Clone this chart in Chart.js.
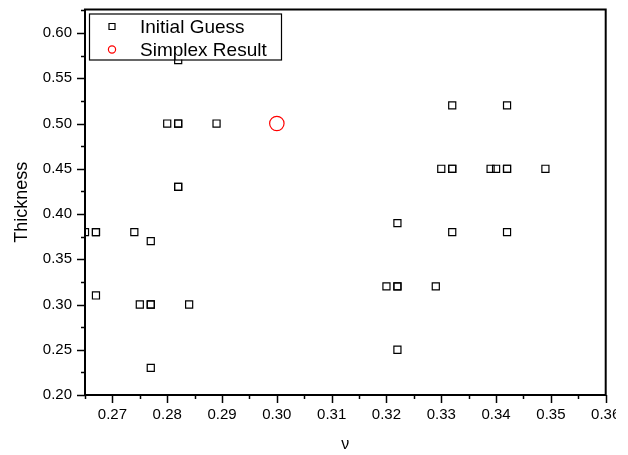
<!DOCTYPE html>
<html><head><meta charset="utf-8">
<script src="https://cdn.jsdelivr.net/npm/chart.js@4"></script>
<style>html,body{margin:0;padding:0;background:#fff;overflow:hidden}#wrap{width:628px;height:455px;position:relative;background:#fff}</style>
</head><body><div id="wrap"><canvas id="c" width="616" height="455"></canvas></div>
<script>
// ---- data ----
const initialX = [0.265, 0.267, 0.267, 0.274, 0.277, 0.267, 0.275, 0.277, 0.277, 0.284, 0.277,
                  0.282, 0.282, 0.280, 0.282, 0.282, 0.289, 0.282,
                  0.332, 0.342, 0.330, 0.332, 0.332, 0.339, 0.340, 0.342, 0.342, 0.349,
                  0.322, 0.332, 0.342, 0.320, 0.322, 0.322, 0.329, 0.322];
const initialY = [0.38, 0.38, 0.38, 0.38, 0.37, 0.31, 0.30, 0.30, 0.30, 0.30, 0.23,
                  0.43, 0.43, 0.50, 0.50, 0.50, 0.50, 0.57,
                  0.52, 0.52, 0.45, 0.45, 0.45, 0.45, 0.45, 0.45, 0.45, 0.45,
                  0.39, 0.38, 0.38, 0.32, 0.32, 0.32, 0.32, 0.25];
const simplexX = [0.30];
const simplexY = [0.50];
const seriesNames = ['Initial Guess', 'Simplex Result'];
const xTitle = 'ν';
const yTitle = 'Thickness';
const xMin = 0.265, xMax = 0.36, xMajor = 0.01, xMinor = 0.005;
const yMin = 0.20, yMax = 0.626, yMajor = 0.05, yMinor = 0.025;

const FONT = "'Liberation Sans', Arial, sans-serif";
function isMajor(v, step) { const r = v / step; return Math.abs(r - Math.round(r)) < 1e-6; }
function toPts(xs, ys) { return xs.map((x, i) => ({ x: x, y: ys[i] })); }

const framePlugin = {
  id: 'frame',
  afterDatasetsDraw(chart) {
    const { ctx, chartArea: a, scales: { x, y } } = chart;
    ctx.save();
    ctx.strokeStyle = '#000';
    ctx.lineWidth = 2;
    ctx.strokeRect(a.left, a.top, a.right - a.left, a.bottom - a.top);
    ctx.lineWidth = 1.5;
    x.ticks.forEach(t => {
      const px = Math.round(x.getPixelForValue(t.value)) + 0.5;
      const len = isMajor(t.value, xMajor) ? 8 : 4;
      ctx.beginPath(); ctx.moveTo(px, a.bottom); ctx.lineTo(px, a.bottom + len); ctx.stroke();
    });
    y.ticks.forEach(t => {
      const py = Math.round(y.getPixelForValue(t.value)) + 0.5;
      const len = isMajor(t.value, yMajor) ? 8 : 4;
      ctx.beginPath(); ctx.moveTo(a.left, py); ctx.lineTo(a.left - len, py); ctx.stroke();
    });
    // legend box
    const lx = a.left + 4, ly = a.top + 4, lw = 192, lh = 46;
    ctx.fillStyle = '#fff';
    ctx.fillRect(lx, ly, lw, lh);
    ctx.lineWidth = 1.2;
    ctx.strokeStyle = '#000';
    ctx.strokeRect(lx + 0.5, ly + 0.5, lw, lh);
    const ds = chart.data.datasets;
    const rows = [ly + 13, ly + 36];
    const mx = lx + 23;
    ctx.font = '19px ' + FONT;
    ctx.textBaseline = 'middle';
    ctx.textAlign = 'left';
    ds.forEach((d, i) => {
      const cy = rows[i];
      ctx.strokeStyle = d.borderColor;
      ctx.lineWidth = 1.2;
      ctx.beginPath();
      if (d.pointStyle === 'rect') ctx.rect(mx - 3, cy - 3, 6, 6);
      else ctx.arc(mx, cy, 3.6, 0, Math.PI * 2);
      ctx.stroke();
      ctx.fillStyle = '#000';
      ctx.fillText(d.label, lx + 51, cy + 1);
    });
    ctx.restore();
  }
};

new Chart(document.getElementById('c'), {
  type: 'scatter',
  data: {
    datasets: [
      { label: seriesNames[0], data: toPts(initialX, initialY), pointStyle: 'rect', pointRadius: 5,
        borderColor: '#000', backgroundColor: 'rgba(0,0,0,0)', borderWidth: 1.2, clip: 0 },
      { label: seriesNames[1], data: toPts(simplexX, simplexY), pointStyle: 'circle', pointRadius: 7.2,
        borderColor: '#ff0000', backgroundColor: 'rgba(0,0,0,0)', borderWidth: 1.2, clip: 0 }
    ]
  },
  options: {
    responsive: false, animation: false, devicePixelRatio: 1,
    layout: { padding: { left: 0, right: 10.3, top: 9.5, bottom: 0 } },
    plugins: { legend: { display: false }, tooltip: { enabled: false } },
    scales: {
      x: {
        type: 'linear', min: xMin, max: xMax,
        afterFit: s => { s.height = 60; s.paddingLeft = 0; s.paddingRight = 0; },
        grid: { display: true, drawOnChartArea: false, drawTicks: true, tickLength: 8, tickColor: 'rgba(0,0,0,0)' },
        border: { display: false },
        ticks: { stepSize: xMinor, autoSkip: false, maxRotation: 0, includeBounds: false, padding: 3, color: '#000',
                 font: { family: FONT, size: 15 },
                 callback: v => isMajor(v, xMajor) ? v.toFixed(2) : '' },
        title: { display: true, text: xTitle, color: '#000', font: { family: FONT, size: 16 }, padding: { top: 0, bottom: 1 } }
      },
      y: {
        type: 'linear', min: yMin, max: yMax,
        afterFit: s => { s.width = 85; s.paddingTop = 0; s.paddingBottom = 0; },
        grid: { display: true, drawOnChartArea: false, drawTicks: true, tickLength: 8, tickColor: 'rgba(0,0,0,0)' },
        border: { display: false },
        ticks: { stepSize: yMinor, autoSkip: false, includeBounds: false, padding: 5, color: '#000',
                 font: { family: FONT, size: 15 },
                 callback: v => isMajor(v, yMajor) ? v.toFixed(2) : '' },
        title: { display: true, text: yTitle, color: '#000', font: { family: FONT, size: 18 }, padding: { top: 11, bottom: 0 } }
      }
    }
  },
  plugins: [framePlugin]
});
</script></body></html>
